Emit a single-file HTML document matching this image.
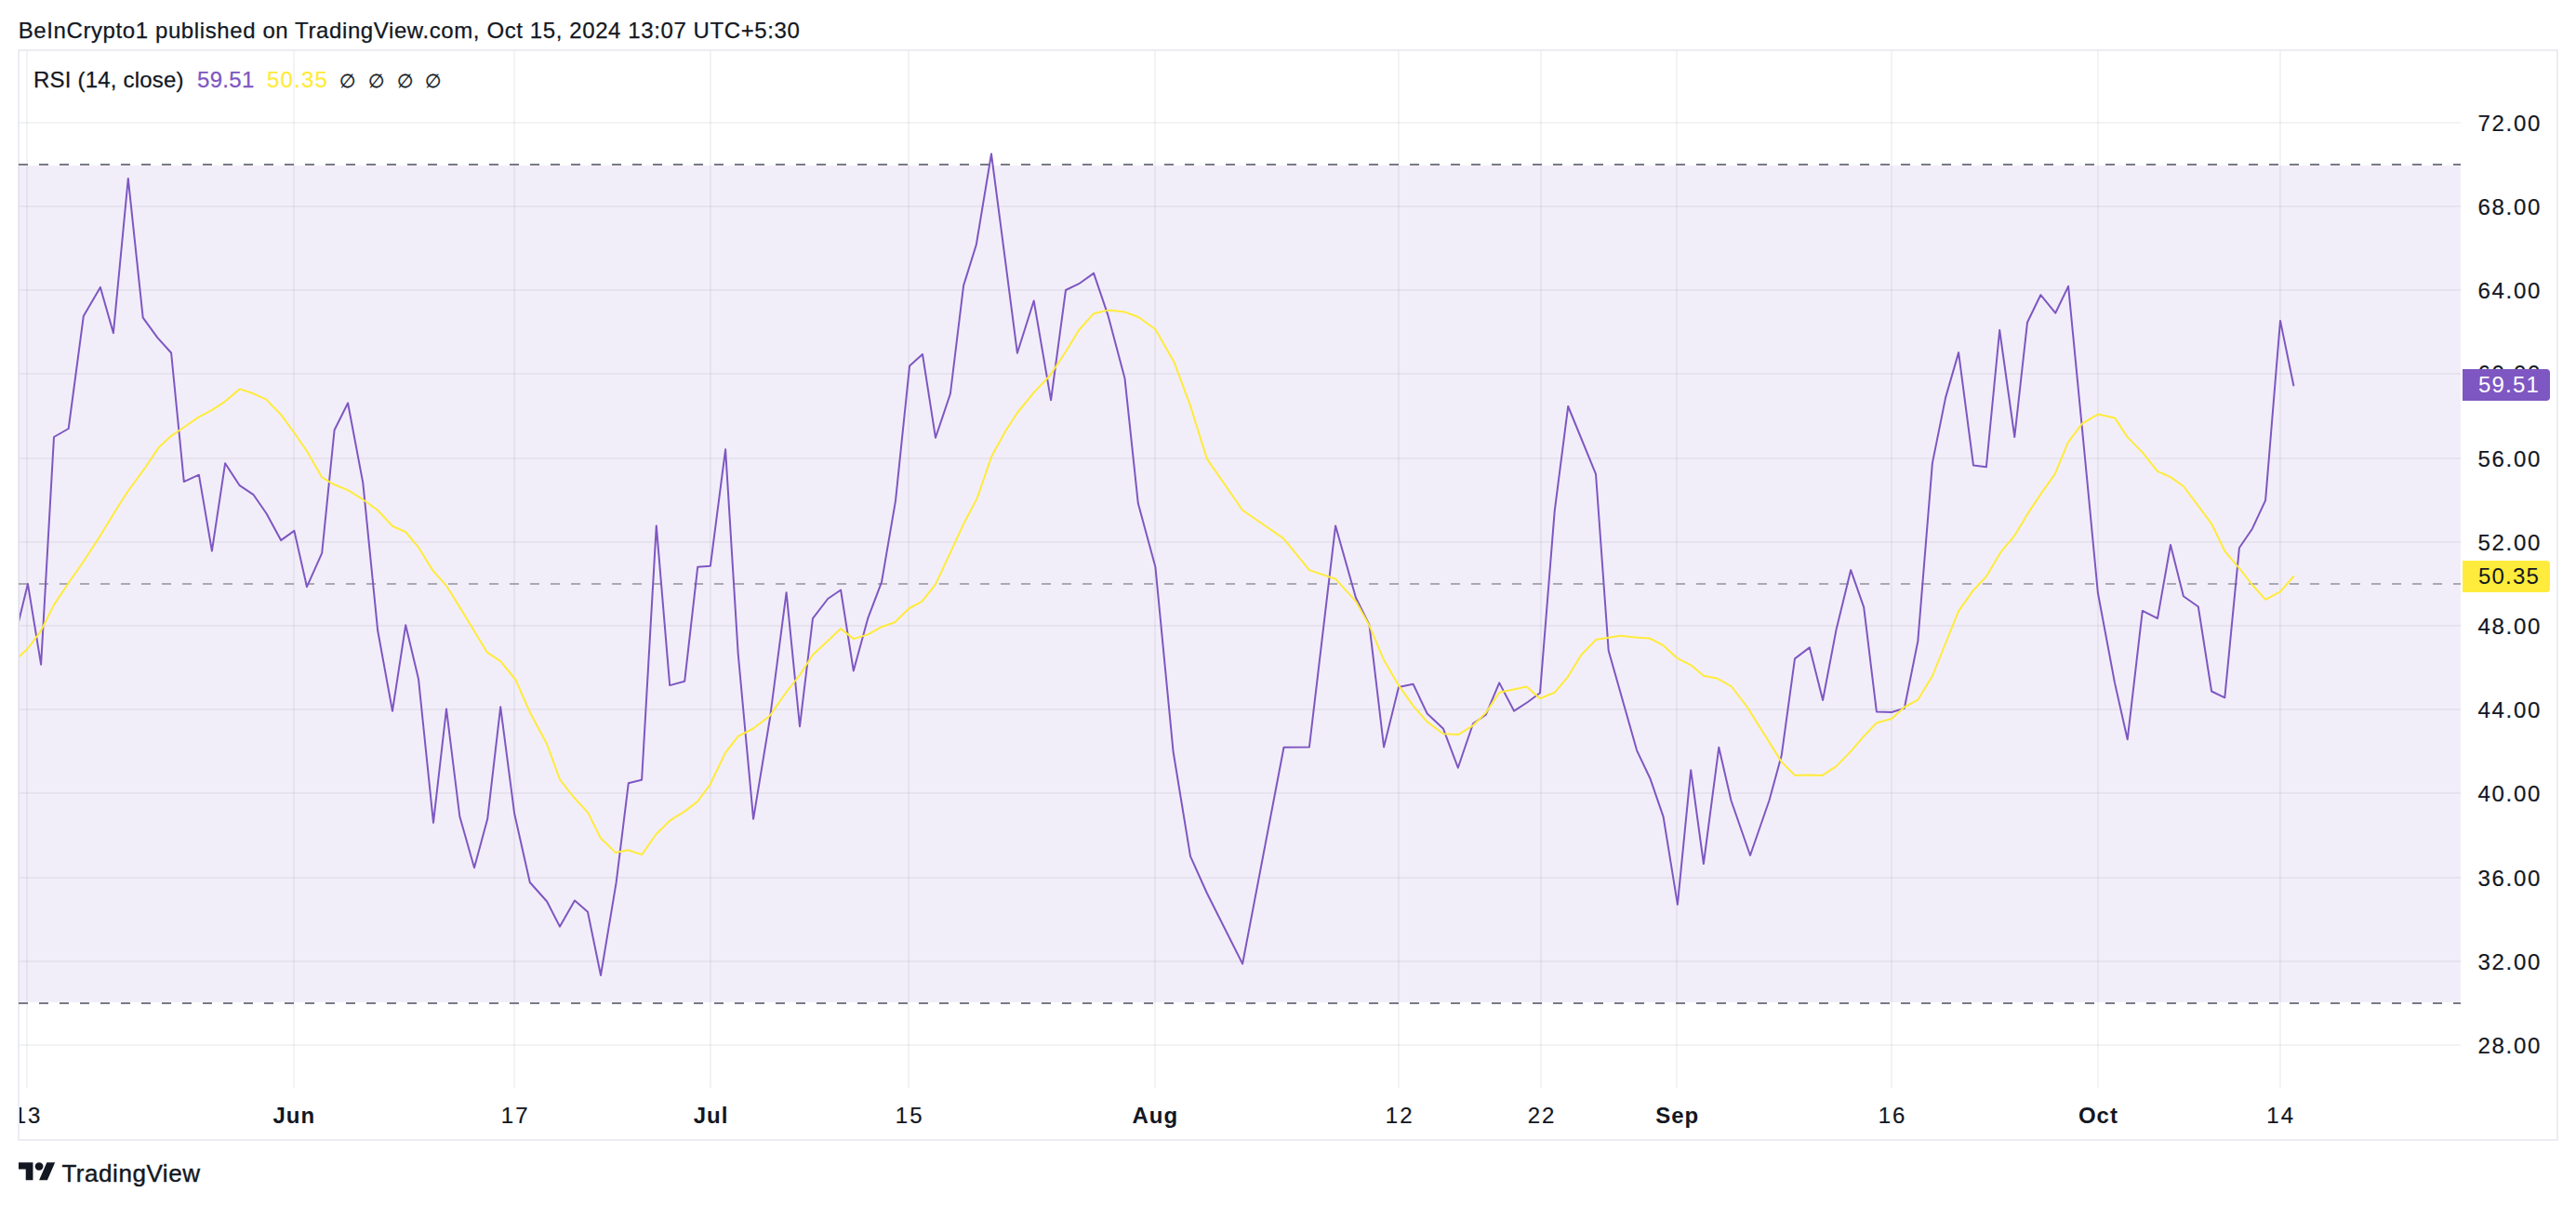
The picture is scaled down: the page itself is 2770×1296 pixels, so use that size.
<!DOCTYPE html>
<html lang="en"><head><meta charset="utf-8"><title>RSI chart</title>
<style>
html,body{margin:0;padding:0;background:#fff;}
body{width:2770px;height:1296px;position:relative;overflow:hidden;font-family:"Liberation Sans",sans-serif;color:#131722;}
.abs{position:absolute;white-space:nowrap;}
#hdr{left:19.7px;top:18.7px;font-size:24px;line-height:28px;letter-spacing:0.6px;-webkit-text-stroke:0.25px #131722;}
#frame{left:19px;top:53px;width:2732px;height:1174px;box-sizing:border-box;border:2px solid #ecedf2;overflow:hidden;}
.legend{top:72px;font-size:24px;line-height:28px;letter-spacing:0.2px;-webkit-text-stroke:0.25px currentColor;}
.pl{-webkit-text-stroke:0.2px currentColor;left:2664.5px;font-size:24px;line-height:24px;letter-spacing:1.7px;height:24px;margin-top:-11px;}
.badge{left:2648px;width:94px;height:34px;border-radius:0 4px 4px 0;box-sizing:border-box;padding-left:17px;font-size:24px;line-height:34.4px;letter-spacing:1.2px;}
.tl{-webkit-text-stroke:0.2px currentColor;top:1187px;font-size:24px;line-height:26px;letter-spacing:2px;transform:translateX(-50%);text-align:center;}
.tl.b{-webkit-text-stroke:0;font-weight:bold;letter-spacing:1px;}
#tvtxt{left:66.4px;top:1246.9px;font-size:26px;line-height:30px;letter-spacing:0.55px;-webkit-text-stroke:0.4px #131722;}
</style></head><body>

<div id="hdr" class="abs">BeInCrypto1 published on TradingView.com, Oct 15, 2024 13:07 UTC+5:30</div>
<div id="frame" class="abs">
<div class="abs tl" style="left:9.0px;top:1131.9px">13</div>
<div class="abs tl b" style="left:295.3px;top:1131.9px">Jun</div>
<div class="abs tl" style="left:533.2px;top:1131.9px">17</div>
<div class="abs tl b" style="left:743.6px;top:1131.9px">Jul</div>
<div class="abs tl" style="left:957.2px;top:1131.9px">15</div>
<div class="abs tl b" style="left:1221.3px;top:1131.9px">Aug</div>
<div class="abs tl" style="left:1484.2px;top:1131.9px">12</div>
<div class="abs tl" style="left:1637.0px;top:1131.9px">22</div>
<div class="abs tl b" style="left:1782.7px;top:1131.9px">Sep</div>
<div class="abs tl" style="left:2014.1px;top:1131.9px">16</div>
<div class="abs tl b" style="left:2235.4px;top:1131.9px">Oct</div>
<div class="abs tl" style="left:2431.7px;top:1131.9px">14</div>
</div>
<svg width="2770" height="1296" viewBox="0 0 2770 1296" style="position:absolute;left:0;top:0">
<defs><clipPath id="plot"><rect x="21" y="55" width="2625" height="1115"/></clipPath></defs>
<line x1="29" y1="55" x2="29" y2="1170" stroke="rgba(42,46,57,0.06)" stroke-width="2"/>
<line x1="316" y1="55" x2="316" y2="1170" stroke="rgba(42,46,57,0.06)" stroke-width="2"/>
<line x1="553" y1="55" x2="553" y2="1170" stroke="rgba(42,46,57,0.06)" stroke-width="2"/>
<line x1="764" y1="55" x2="764" y2="1170" stroke="rgba(42,46,57,0.06)" stroke-width="2"/>
<line x1="977" y1="55" x2="977" y2="1170" stroke="rgba(42,46,57,0.06)" stroke-width="2"/>
<line x1="1242" y1="55" x2="1242" y2="1170" stroke="rgba(42,46,57,0.06)" stroke-width="2"/>
<line x1="1504" y1="55" x2="1504" y2="1170" stroke="rgba(42,46,57,0.06)" stroke-width="2"/>
<line x1="1657" y1="55" x2="1657" y2="1170" stroke="rgba(42,46,57,0.06)" stroke-width="2"/>
<line x1="1803" y1="55" x2="1803" y2="1170" stroke="rgba(42,46,57,0.06)" stroke-width="2"/>
<line x1="2034" y1="55" x2="2034" y2="1170" stroke="rgba(42,46,57,0.06)" stroke-width="2"/>
<line x1="2256" y1="55" x2="2256" y2="1170" stroke="rgba(42,46,57,0.06)" stroke-width="2"/>
<line x1="2452" y1="55" x2="2452" y2="1170" stroke="rgba(42,46,57,0.06)" stroke-width="2"/>
<line x1="21" y1="132" x2="2646" y2="132" stroke="rgba(42,46,57,0.06)" stroke-width="2"/>
<line x1="21" y1="222" x2="2646" y2="222" stroke="rgba(42,46,57,0.06)" stroke-width="2"/>
<line x1="21" y1="312" x2="2646" y2="312" stroke="rgba(42,46,57,0.06)" stroke-width="2"/>
<line x1="21" y1="402" x2="2646" y2="402" stroke="rgba(42,46,57,0.06)" stroke-width="2"/>
<line x1="21" y1="493" x2="2646" y2="493" stroke="rgba(42,46,57,0.06)" stroke-width="2"/>
<line x1="21" y1="583" x2="2646" y2="583" stroke="rgba(42,46,57,0.06)" stroke-width="2"/>
<line x1="21" y1="673" x2="2646" y2="673" stroke="rgba(42,46,57,0.06)" stroke-width="2"/>
<line x1="21" y1="763" x2="2646" y2="763" stroke="rgba(42,46,57,0.06)" stroke-width="2"/>
<line x1="21" y1="853" x2="2646" y2="853" stroke="rgba(42,46,57,0.06)" stroke-width="2"/>
<line x1="21" y1="944" x2="2646" y2="944" stroke="rgba(42,46,57,0.06)" stroke-width="2"/>
<line x1="21" y1="1034" x2="2646" y2="1034" stroke="rgba(42,46,57,0.06)" stroke-width="2"/>
<line x1="21" y1="1124" x2="2646" y2="1124" stroke="rgba(42,46,57,0.06)" stroke-width="2"/>
<rect x="20" y="178" width="2626" height="900" fill="rgba(126,87,194,0.1)"/>
<line x1="20" y1="177" x2="2646" y2="177" stroke="#787b86" stroke-width="2" stroke-dasharray="10 12"/>
<line x1="20" y1="1079" x2="2646" y2="1079" stroke="#787b86" stroke-width="2" stroke-dasharray="10 12"/>
<line x1="20" y1="628" x2="2646" y2="628" stroke="rgba(120,123,134,0.6)" stroke-width="2" stroke-dasharray="10 12"/>
<g clip-path="url(#plot)" fill="none" stroke-linejoin="round" stroke-linecap="round">
<polyline points="14.8,690.0 19.7,670.0 29.9,627.9 44.1,714.7 58.0,470.0 73.7,461.0 89.8,340.1 107.9,308.9 121.9,358.2 137.8,191.9 153.7,341.7 169.3,363.1 184.1,379.5 197.8,518.1 213.9,510.7 227.9,592.6 242.1,498.3 257.7,522.2 272.3,531.8 286.5,552.3 302.1,581.1 316.4,570.9 330.0,631.2 346.2,594.8 359.6,462.5 374.1,433.5 390.3,519.4 406.2,678.3 422.0,764.8 436.2,672.3 450.0,730.2 466.0,884.8 480.0,762.5 494.3,878.0 510.0,933.3 524.2,880.8 538.2,760.3 553.2,875.3 569.8,949.0 588.1,969.5 602.0,996.6 618.0,968.6 632.0,980.7 646.0,1049.0 662.6,949.4 675.8,842.3 690.1,838.8 705.8,565.4 720.2,737.1 736.2,732.7 750.2,609.8 763.9,608.7 780.1,483.3 793.7,703.0 810.1,880.8 828.0,772.0 845.6,637.2 860.0,781.3 874.0,665.1 890.2,644.0 904.1,634.5 917.8,721.5 933.4,664.6 948.0,626.2 963.0,538.6 978.1,393.4 992.0,381.0 1006.0,470.8 1021.9,423.5 1036.1,307.1 1049.8,263.3 1066.0,165.5 1080.0,272.6 1093.9,379.7 1111.7,323.5 1130.1,430.3 1146.0,312.0 1160.2,305.2 1176.1,293.9 1191.7,339.9 1209.5,407.1 1223.8,541.3 1242.4,609.8 1261.6,808.5 1280.0,920.8 1297.8,960.5 1336.1,1036.6 1380.5,803.8 1407.9,803.5 1436.1,565.4 1458.0,643.0 1472.5,672.3 1488.1,803.5 1504.0,739.1 1519.6,735.8 1534.7,767.6 1552.0,783.8 1567.8,825.7 1584.0,778.3 1597.7,768.8 1612.2,734.4 1628.1,764.7 1642.9,755.0 1656.0,745.2 1671.7,549.6 1686.2,437.0 1716.0,509.8 1729.7,699.7 1760.1,807.1 1774.4,837.2 1788.6,878.3 1803.9,972.8 1818.2,828.2 1831.9,929.0 1848.3,803.8 1861.5,861.0 1882.0,920.0 1902.6,860.5 1915.7,812.6 1930.0,708.4 1945.9,696.4 1960.1,753.0 1974.6,676.9 1990.2,613.1 2004.2,653.1 2017.9,765.4 2034.1,766.0 2047.8,761.8 2062.3,689.8 2077.9,498.1 2092.1,427.6 2106.1,379.1 2122.0,500.5 2135.9,502.2 2150.2,355.0 2166.3,470.0 2180.0,346.8 2194.3,317.2 2210.2,336.7 2224.1,307.9 2241.7,489.3 2255.9,637.8 2274.0,734.4 2287.7,795.3 2303.8,656.9 2320.0,665.1 2334.0,586.0 2347.9,641.3 2363.8,652.5 2378.1,743.5 2392.3,750.3 2407.9,589.3 2421.9,568.7 2436.1,538.1 2452.0,344.9 2466.3,414.5" stroke="#7e57c2" stroke-width="2"/>
<polyline points="14.0,712.0 19.7,707.0 29.9,697.5 44.1,678.3 58.1,650.4 73.7,627.0 90.4,603.0 107.9,576.0 121.9,553.0 137.0,529.0 156.1,503.0 170.4,481.6 184.1,468.8 197.8,459.5 213.6,448.6 227.3,441.4 241.6,432.1 257.7,418.4 271.2,422.8 286.0,429.4 302.4,446.3 316.4,465.5 330.0,485.2 346.2,513.4 359.6,521.3 374.1,527.1 390.3,537.2 406.2,548.7 422.1,566.0 436.0,572.0 450.0,588.7 465.6,613.9 479.9,629.8 493.0,650.9 508.9,676.9 523.7,701.6 538.2,711.2 554.4,731.0 570.0,766.5 588.0,800.0 602.0,838.3 617.0,857.5 632.1,873.9 645.8,901.3 661.7,916.9 675.4,914.2 690.2,919.1 705.5,897.2 720.3,882.7 736.2,872.6 749.9,862.1 763.6,843.8 780.0,809.6 793.7,791.8 810.1,783.5 827.9,769.8 845.0,745.0 860.0,726.0 874.0,704.3 890.2,689.2 904.1,676.1 917.8,687.1 933.4,682.4 948.0,674.2 962.2,669.3 977.3,654.5 991.5,646.8 1006.0,628.4 1021.1,596.1 1036.2,563.3 1050.7,535.9 1066.3,490.7 1081.4,463.3 1093.9,444.0 1111.7,422.1 1128.7,404.3 1146.0,378.3 1160.2,355.0 1176.1,337.2 1191.7,333.6 1209.5,335.6 1224.6,341.3 1242.4,354.2 1262.4,389.2 1279.3,434.4 1297.8,493.4 1336.1,548.7 1379.9,578.9 1407.9,613.1 1436.1,622.7 1458.0,646.8 1472.5,672.8 1488.1,709.8 1504.0,737.2 1519.6,759.1 1534.7,776.4 1552.0,789.3 1567.8,790.1 1584.0,780.3 1597.7,766.6 1612.2,744.8 1641.5,738.5 1656.0,751.2 1671.7,744.8 1686.2,727.6 1700.4,704.3 1716.0,688.1 1729.7,685.7 1742.9,683.8 1757.9,685.4 1773.8,686.5 1788.6,694.2 1803.1,707.6 1818.2,715.3 1831.9,726.8 1847.0,729.8 1862.0,738.5 1878.8,760.5 1915.7,819.4 1930.0,833.9 1944.5,833.4 1959.6,833.9 1974.6,824.1 1991.1,807.1 2003.4,792.6 2017.9,777.5 2034.1,772.9 2047.8,760.5 2062.3,752.7 2077.9,727.0 2092.0,692.0 2106.1,657.2 2121.2,635.8 2135.9,619.9 2151.3,593.9 2166.3,576.1 2181.4,550.9 2195.1,530.4 2209.4,510.4 2223.9,475.6 2238.9,455.7 2255.9,445.6 2274.0,449.4 2287.7,470.1 2303.8,486.6 2320.0,506.8 2334.0,513.1 2347.9,523.0 2363.8,544.1 2378.1,563.3 2392.3,592.8 2407.9,611.2 2421.9,629.0 2436.1,644.9 2452.0,636.4 2466.3,620.0" stroke="#ffeb3b" stroke-width="2"/>
</g>
</svg>
<div class="abs legend" style="left:36px">RSI (14, close)</div>
<div class="abs legend" style="left:212px;color:#7e57c2;letter-spacing:0.3px">59.51</div>
<div class="abs legend" style="left:287px;color:#ffeb3b;letter-spacing:1.2px">50.35</div>
<div class="abs legend" style="left:373.6px;transform:translateX(-50%);letter-spacing:0;font-size:20px;top:73.2px;-webkit-text-stroke:0.35px currentColor">∅</div>
<div class="abs legend" style="left:404.3px;transform:translateX(-50%);letter-spacing:0;font-size:20px;top:73.2px;-webkit-text-stroke:0.35px currentColor">∅</div>
<div class="abs legend" style="left:435.2px;transform:translateX(-50%);letter-spacing:0;font-size:20px;top:73.2px;-webkit-text-stroke:0.35px currentColor">∅</div>
<div class="abs legend" style="left:465.8px;transform:translateX(-50%);letter-spacing:0;font-size:20px;top:73.2px;-webkit-text-stroke:0.35px currentColor">∅</div>
<div class="abs pl" style="top:131.9px">72.00</div>
<div class="abs pl" style="top:222.1px">68.00</div>
<div class="abs pl" style="top:312.3px">64.00</div>
<div class="abs pl" style="top:401.0px">60.00</div>
<div class="abs pl" style="top:492.6px">56.00</div>
<div class="abs pl" style="top:582.8px">52.00</div>
<div class="abs pl" style="top:673.0px">48.00</div>
<div class="abs pl" style="top:763.2px">44.00</div>
<div class="abs pl" style="top:853.4px">40.00</div>
<div class="abs pl" style="top:943.5px">36.00</div>
<div class="abs pl" style="top:1033.7px">32.00</div>
<div class="abs pl" style="top:1123.9px">28.00</div>
<div class="abs badge" style="top:397px;background:#7e57c2;color:#fff">59.51</div>
<div class="abs badge" style="top:603px;background:#ffeb3b;color:#131722">50.35</div>
<svg class="abs" style="left:20px;top:1246.14px" width="39.74" height="29.48" viewBox="0 0 36 28" preserveAspectRatio="none"><path fill="#131722" d="M14 22H7V11H0V4h14v18zM28 22h-8l7.5-18h8L28 22z"/><circle fill="#131722" cx="20" cy="8" r="4"/></svg>
<div id="tvtxt" class="abs">TradingView</div>
</body></html>
